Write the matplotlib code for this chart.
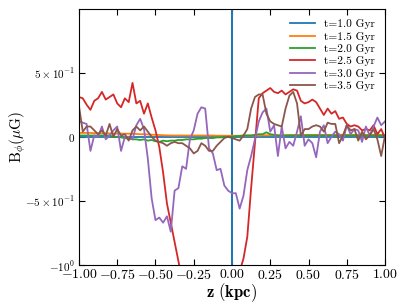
import numpy as np
import matplotlib
matplotlib.use("Agg")
import matplotlib.pyplot as plt

plt.rcParams['font.family'] = 'serif'
plt.rcParams['font.serif'] = ['cmr10']
plt.rcParams['mathtext.fontset'] = 'cm'
plt.rcParams['axes.formatter.use_mathtext'] = True

# z grid (kpc), step 0.025
z = np.linspace(-1.0, 1.0, 81)

# t=1.0 Gyr: zero except a spike at z=0
blue_z = [-1.0, 0.0, 0.0, 0.0, 0.0, 1.0]
blue_b = [0.0, 0.0, 1000.0, -1000.0, 0.0, 0.0]

orange_b = [0.03, 0.03, 0.03, 0.03, 0.028, 0.028, 0.027, 0.027, 0.026, 0.026,
            0.025, 0.025, 0.024, 0.024, 0.023, 0.022, 0.02, 0.02, 0.018, 0.016,
            0.015, 0.014, 0.012, 0.011, 0.01, 0.01, 0.01, 0.01, 0.01, 0.01,
            0.01, 0.01, 0.01, 0.01, 0.01, 0.01, 0.008, 0.008, 0.008, 0.008,
            0.008, 0.008, 0.008, 0.01, 0.01, 0.01, 0.01, 0.01, 0.012, 0.012,
            0.012, 0.012, 0.012, 0.012, 0.012, 0.014, 0.014, 0.014, 0.014, 0.014,
            0.015, 0.015, 0.015, 0.015, 0.015, 0.015, 0.015, 0.015, 0.015, 0.015,
            0.015, 0.015, 0.015, 0.015, 0.015, 0.015, 0.015, 0.015, 0.015, 0.015,
            0.015]

green_b = [0.01, 0.01, 0.01, 0.01, 0.01, 0.01, 0.01, 0.01, 0.01, 0.0,
           0.0, -0.005, -0.01, -0.015, -0.02, -0.02, -0.025, -0.02, -0.03, -0.025,
           -0.035, -0.04, -0.03, -0.035, -0.03, -0.03, -0.025, -0.025, -0.02, -0.02,
           -0.02, -0.015, -0.015, -0.01, -0.01, -0.01, -0.005, -0.005, 0.0, 0.0,
           0.0, 0.005, 0.005, 0.01, 0.01, 0.01, 0.015, 0.02, 0.02, 0.035,
           0.02, 0.015, 0.01, 0.01, 0.01, 0.01, 0.01, 0.01, 0.01, 0.01,
           0.01, 0.01, 0.01, 0.01, 0.01, 0.01, 0.01, 0.01, 0.01, 0.01,
           0.01, 0.01, 0.01, 0.01, 0.01, 0.01, 0.01, 0.01, 0.01, 0.01,
           0.01]

red_b = [0.31, 0.30, 0.25, 0.21, 0.28, 0.30, 0.35, 0.29, 0.31, 0.33,
         0.26, 0.23, 0.30, 0.27, 0.42, 0.26, 0.28, 0.18, 0.26, 0.15,
         0.05, -0.08, -0.28, -0.52, -0.67, -0.82, -0.97, -1.12, -1.3, -1.5,
         -1.7, -1.6, -1.8, -1.7, -1.9, -1.8, -1.6, -1.7, -1.5, -1.6,
         -1.4, -1.3, -1.05, -0.95, -0.78, -0.40, -0.05, 0.30, 0.34, 0.36,
         0.38, 0.35, 0.34, 0.36, 0.33, 0.35, 0.37, 0.36, 0.28, 0.26,
         0.27, 0.29, 0.27, 0.22, 0.17, 0.22, 0.18, 0.20, 0.14, 0.15,
         0.10, 0.08, 0.09, 0.08, 0.05, 0.06, 0.05, 0.09, 0.02, 0.06,
         -0.01]

purple_b = [0.12, 0.11, 0.10, -0.11, 0.01, 0.0, 0.08, -0.02, 0.01, 0.05,
            0.08, -0.11, 0.0, 0.0, -0.02, 0.09, 0.14, 0.06, -0.17, -0.48,
            -0.65, -0.63, -0.67, -0.62, -0.74, -0.42, -0.40, -0.23, -0.25, -0.02,
            0.05, 0.18, 0.23, 0.22, -0.09, -0.13, -0.26, -0.25, -0.38, -0.42,
            -0.44, -0.44, -0.56, -0.46, -0.26, -0.15, -0.02, 0.12, 0.19, 0.22,
            0.04, 0.09, -0.15, 0.08, -0.09, -0.04, -0.07, 0.04, 0.16, -0.07,
            -0.02, -0.05, -0.16, 0.04, 0.09, -0.05, 0.0, 0.04, 0.02, -0.03,
            0.09, 0.02, 0.06, 0.05, -0.04, 0.08, 0.01, 0.08, 0.15, 0.09,
            0.12]

brown_b = [0.24, 0.04, 0.08, 0.08, 0.05, 0.02, 0.05, 0.01, 0.10, 0.0,
           0.06, 0.01, 0.02, -0.03, 0.05, 0.08, 0.05, 0.08, 0.04, 0.0,
           -0.03, -0.04, -0.05, -0.07, -0.05, -0.04, -0.05, -0.05, -0.07, -0.09,
           -0.13, -0.11, -0.05, -0.07, -0.11, -0.11, -0.07, -0.04, -0.01, 0.0,
           -0.01, -0.02, -0.03, 0.01, 0.06, 0.22, 0.31, 0.33, 0.33, 0.18,
           0.12, 0.10, 0.09, 0.08, 0.22, 0.32, 0.35, 0.26, 0.01, 0.06,
           0.06, 0.08, 0.09, 0.08, 0.04, 0.11, 0.10, 0.10, -0.05, 0.01,
           0.09, 0.05, 0.06, -0.03, 0.04, -0.02, 0.01, 0.06, -0.02, -0.15,
           0.01]

labels = ['t=1.0 Gyr', 't=1.5 Gyr', 't=2.0 Gyr', 't=2.5 Gyr', 't=3.0 Gyr', 't=3.5 Gyr']

xticks = [-1.0, -0.75, -0.5, -0.25, 0.0, 0.25, 0.5, 0.75, 1.0]
xticklabels = [r'$\mathbf{-1.00}$', r'$\mathbf{-0.75}$', r'$\mathbf{-0.50}$', r'$\mathbf{-0.25}$',
               r'$\mathbf{0.00}$', r'$\mathbf{0.25}$', r'$\mathbf{0.50}$', r'$\mathbf{0.75}$',
               r'$\mathbf{1.00}$']
yticks = [-1.0, -0.5, 0.0, 0.5]
yticklabels = [r'$-10^{0}$', r'$-5\times10^{-1}$', r'$0$', r'$5\times10^{-1}$']

fig = plt.figure(figsize=(4.07, 3.05), dpi=100)
ax = fig.add_axes([0.194, 0.131, 0.752, 0.839])

ax.plot(blue_z, blue_b, color='C0', lw=1.3, label=labels[0])
ax.plot(z, orange_b, color='C1', lw=1.3, label=labels[1])
ax.plot(z, green_b, color='C2', lw=1.3, label=labels[2])
ax.plot(z, red_b, color='C3', lw=1.3, label=labels[3])
ax.plot(z, purple_b, color='C4', lw=1.3, label=labels[4])
ax.plot(z, brown_b, color='C5', lw=1.3, label=labels[5])

ax.set_xlim(-1, 1)
ax.set_ylim(-1, 0.995)
ax.set_xticks(xticks)
ax.set_xticklabels(xticklabels, fontsize=10)
ax.set_yticks(yticks)
ax.set_yticklabels(yticklabels, fontsize=8)
ax.tick_params(direction='in', top=True, right=True, length=4, pad=3)
ax.tick_params(axis='x', pad=2)

ax.set_xlabel(r'$\mathbf{z\ (kpc)}$', fontsize=12, labelpad=-0.5)
ax.set_ylabel(r'$\mathrm{B}_{\phi}(\mu\mathrm{G})$', fontsize=11, labelpad=-2.5)

ax.legend(loc='upper right', frameon=False, fontsize=8.2, labelspacing=0.2,
          handlelength=2.2, borderaxespad=0.5)

fig.savefig('out.png', dpi=100)
